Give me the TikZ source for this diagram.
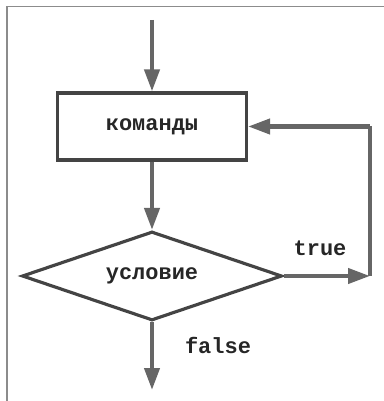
\documentclass[tikz,border=0pt]{standalone}
\usepackage{fontspec}
\setmonofont{Liberation Mono}
\usetikzlibrary{arrows.meta,shapes.geometric}

\definecolor{linegray}{HTML}{666666}
\definecolor{boxgray}{HTML}{444444}
\definecolor{framegray}{HTML}{8C8C8C}

\tikzset{
  flow/.style={draw=linegray, line width=2.4pt,
    -{Triangle[length=12.5pt, width=8.5pt]}},
  plain/.style={draw=linegray, line width=2.4pt},
  cmdbox/.style={draw=boxgray, line width=1.8pt, rectangle,
    minimum width=189*0.02cm, minimum height=67*0.02cm},
  cond/.style={draw=boxgray, line width=1.8pt, diamond, inner sep=0pt,
    minimum width=260*0.02cm, minimum height=89*0.02cm},
  label/.style={font=\ttfamily\bfseries\fontsize{12.5}{14}\selectfont, text=black!85}
}

\begin{document}
\begin{tikzpicture}[x=0.02cm, y=-0.02cm]
  \useasboundingbox (0,0) rectangle (384,401);
  % frame
  \draw[framegray, line width=0.8pt] (7,401) -- (7,6.5) -- (384,6.5);

  % blocks
  \node[cmdbox] (cmd) at (152,126.5) {};
  \node[label] at (cmd.center) {команды};
  \node[cond] (cnd) at (152,276) {};
  \node[label] at (cnd.center) {условие};

  \coordinate (start) at (152,20);
  \coordinate (end) at (152,390);
  \coordinate (turn) at (370,276);
  \coordinate (back) at (370,126.5);

  % connectors
  \draw[flow] (start) -- (cmd.north);
  \draw[flow] (cmd.south) -- (cnd.north);
  \draw[flow] (cnd.south) -- (end);
  \draw[flow] (cnd.east) -- (turn);
  \draw[plain] (turn) -- (back);
  \draw[flow] (back) -- (cmd.east);

  \node[label] (t) at (320,248) {true};
  \node[label] (f) at (218,345) {false};
\end{tikzpicture}
\end{document}
